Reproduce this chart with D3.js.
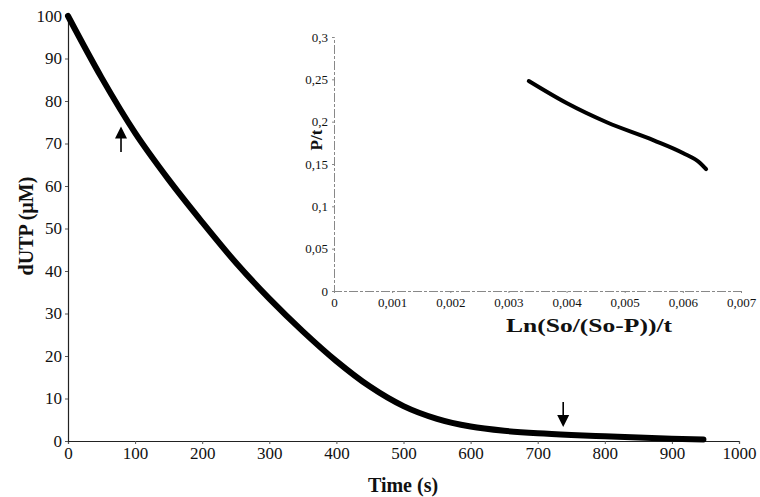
<!DOCTYPE html>
<html>
<head>
<meta charset="utf-8">
<script src="https://cdn.jsdelivr.net/npm/d3@7"></script>
<style>
  body { margin: 0; background: #fff; }
  svg text { font-family: "Liberation Serif", "Times New Roman", serif !important; fill: #111; }
</style>
</head>
<body>
<script>
"use strict";

// main curve: dUTP concentration vs time
const timeS = [0, 50, 100, 150, 200, 250, 300, 350, 400, 450, 500, 550, 600, 650, 700, 750, 800, 850, 900, 947];
const dutp  = [100, 85.5, 72.5, 61.5, 51.5, 42, 33.5, 25.8, 18.8, 12.8, 8.2, 5.2, 3.4, 2.4, 1.8, 1.4, 1.1, 0.8, 0.55, 0.35];

// inset: P/t vs Ln(So/(So-P))/t
const lnRate = [0.00335, 0.004, 0.0047, 0.0055, 0.006, 0.0063, 0.0064];
const pRate  = [0.248, 0.222, 0.199, 0.178, 0.163, 0.151, 0.144];

// arrows on the main curve (time, from value, to value)
const arrowT    = [79, 738];
const arrowFrom = [68, 9.2];
const arrowTo   = [74, 3.3];

const xTicks = d3.range(0, 1001, 100);
const yTicks = d3.range(0, 101, 10);
const insetXTicks = [0, 0.001, 0.002, 0.003, 0.004, 0.005, 0.006, 0.007];
const insetYTicks = [0, 0.05, 0.1, 0.15, 0.2, 0.25, 0.3];

const width = 760, height = 497;
const serif = '"Liberation Serif", "Times New Roman", serif';
const svg = d3.select("body").append("svg")
    .attr("width", width)
    .attr("height", height);

// ---- main chart
const x = d3.scaleLinear().domain([0, 1000]).range([68, 739]);
const y = d3.scaleLinear().domain([0, 100]).range([441, 16]);

const commaFmt = d => String(d).replace(".", ",");

const xAxis = d3.axisBottom(x).tickValues(xTicks).tickSize(3).tickPadding(3).tickFormat(d3.format("d"));
const yAxis = d3.axisLeft(y).tickValues(yTicks).tickSize(3).tickPadding(3).tickFormat(d3.format("d"));

const gx = svg.append("g").attr("transform", "translate(0," + y(0) + ")").call(xAxis);
const gy = svg.append("g").attr("transform", "translate(" + x(0) + ",0)").call(yAxis);
[gx, gy].forEach(g => {
    g.attr("font-family", serif);
    g.select(".domain").attr("stroke", "#222").attr("stroke-width", 1.2);
    g.selectAll(".tick line").attr("stroke", "#555");
    g.selectAll("text").style("font-family", serif).style("font-size", "17px").attr("fill", "#111");
});

svg.append("text")
    .attr("x", 403).attr("y", 492)
    .attr("text-anchor", "middle")
    .style("font-size", "20px").style("font-weight", "bold")
    .text("Time (s)");

svg.append("text")
    .attr("transform", "translate(33,226)rotate(-90)")
    .attr("text-anchor", "middle")
    .style("font-size", "20px").style("font-weight", "bold")
    .text("dUTP (\u00b5M)");

const mainLine = d3.line()
    .x((d, i) => x(timeS[i]))
    .y(d => y(d))
    .curve(d3.curveMonotoneX);

svg.append("path")
    .datum(dutp)
    .attr("d", mainLine)
    .attr("fill", "none")
    .attr("stroke", "#000")
    .attr("stroke-width", 6)
    .attr("stroke-linecap", "round")
    .attr("stroke-linejoin", "round");

// arrows
arrowT.forEach((t, i) => {
    const ax = x(t), y0 = y(arrowFrom[i]), y1 = y(arrowTo[i]);
    const dir = y1 < y0 ? -1 : 1;
    svg.append("line")
        .attr("x1", ax).attr("x2", ax)
        .attr("y1", y0).attr("y2", y1 - dir * 9)
        .attr("stroke", "#000").attr("stroke-width", 1.6);
    svg.append("path")
        .attr("d", d3.line()([[ax, y1], [ax - 6, y1 - dir * 12], [ax + 6, y1 - dir * 12]]) + "Z")
        .attr("fill", "#000");
});

// ---- inset
const ix = d3.scaleLinear().domain([0, 0.007]).range([334, 741]);
const iy = d3.scaleLinear().domain([0, 0.3]).range([291, 37]);

const ixAxis = d3.axisBottom(ix).tickValues(insetXTicks).tickSize(2).tickPadding(5).tickFormat(commaFmt);
const iyAxis = d3.axisLeft(iy).tickValues(insetYTicks).tickSize(2).tickPadding(4).tickFormat(commaFmt);

const igx = svg.append("g").attr("transform", "translate(0," + iy(0) + ")").call(ixAxis);
const igy = svg.append("g").attr("transform", "translate(" + ix(0) + ",0)").call(iyAxis);
[igx, igy].forEach(g => {
    g.attr("font-family", serif);
    g.select(".domain").attr("stroke", "#888").attr("stroke-width", 1).attr("stroke-dasharray", "9,2,3,2");
    g.selectAll(".tick line").attr("stroke", "#888");
    g.selectAll("text").style("font-family", serif).style("font-size", "13px").attr("fill", "#111");
});

svg.append("text")
    .attr("x", 589).attr("y", 332)
    .attr("text-anchor", "middle")
    .attr("textLength", 166)
    .attr("lengthAdjust", "spacingAndGlyphs")
    .style("font-size", "19px").style("font-weight", "bold")
    .text("Ln(So/(So-P))/t");

svg.append("text")
    .attr("transform", "translate(322,140)rotate(-90)")
    .attr("text-anchor", "middle")
    .style("font-size", "17px").style("font-weight", "bold")
    .text("P/t");

const insetLine = d3.line()
    .x((d, i) => ix(lnRate[i]))
    .y(d => iy(d))
    .curve(d3.curveMonotoneX);

svg.append("path")
    .datum(pRate)
    .attr("d", insetLine)
    .attr("fill", "none")
    .attr("stroke", "#000")
    .attr("stroke-width", 4)
    .attr("stroke-linecap", "round")
    .attr("stroke-linejoin", "round");
</script>
</body>
</html>
